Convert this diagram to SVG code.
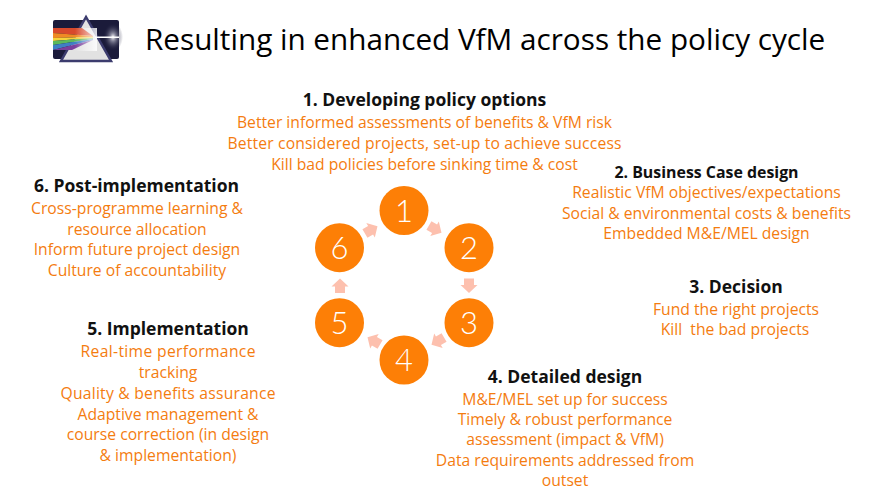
<svg xmlns="http://www.w3.org/2000/svg" width="874" height="492" viewBox="0 0 874 492">
<style>
text{font-family:"Open Sans","Noto Sans","Liberation Sans",sans-serif}
.t{font-size:29.700px;fill:#000}
.h{font-size:17.500px;font-weight:700;fill:#111;text-anchor:middle}
.h2{font-size:15.900px;font-weight:700;fill:#111;text-anchor:middle}
.b{font-size:15.700px;fill:#f47c0f;text-anchor:middle;white-space:pre}
.c{fill:#fd7f06}
.n{font-family:Lato,"Open Sans",sans-serif;font-size:31px;font-weight:300;fill:#fff;text-anchor:middle}
.a{fill:#fdc0ae}
</style>
<defs>
<polygon id="ar" points="-7,-5 -0.500,-5 -0.500,-8.500 7.500,0 -0.500,8.500 -0.500,5 -7,5"/>
<radialGradient id="g"><stop offset="0" stop-color="#fff"/><stop offset="0.300" stop-color="#aab" stop-opacity="0.700"/><stop offset="1" stop-color="#1b1b3a" stop-opacity="0"/></radialGradient>
<linearGradient id="f" x1="0" x2="1" y1="0" y2="0"><stop offset="0.500" stop-color="#fff" stop-opacity="0"/><stop offset="1" stop-color="#fff" stop-opacity="0.850"/></linearGradient>
</defs>
<g id="logo">
<rect x="53" y="20" width="66" height="39" rx="2" fill="#1b1b3a"/>
<ellipse cx="113" cy="37" rx="10" ry="14" fill="url(#g)"/>
<polygon points="86,17 61,61 111,61" fill="#e2e2e2" stroke="#3c3c6e" stroke-width="2.500"/>
<polygon points="53,28 82,28 93,36 53,33" fill="#d8492c"/>
<polygon points="53,33 93,36 93,37 53,38" fill="#f08a24"/>
<polygon points="53,38 93,37 93,38 53,41" fill="#f5d33c"/>
<polygon points="53,41 93,38 93,39 53,45" fill="#5cb85c"/>
<polygon points="53,45 93,39 93,40 53,50" fill="#3f7fc4"/>
<polygon points="53,50 93,40 72,50 53,50" fill="#7a3f9d"/>
<rect x="53" y="28" width="44" height="23" fill="url(#f)"/>
<rect x="95" y="36.500" width="24" height="1.500" fill="#fff"/>
</g>
<text class="t" x="145" y="50">Resulting in enhanced VfM across the policy cycle</text>
<g id="connectors">
<use href="#ar" class="a" transform="translate(435,229) rotate(30)"/>
<use href="#ar" class="a" transform="translate(469,285.500) rotate(90)"/>
<use href="#ar" class="a" transform="translate(438,341) rotate(150)"/>
<use href="#ar" class="a" transform="translate(374,341) rotate(210)"/>
<use href="#ar" class="a" transform="translate(340,286) rotate(270)"/>
<use href="#ar" class="a" transform="translate(371,230) rotate(330)"/>
</g>
<g id="n1"><circle class="c" cx="404" cy="210.500" r="24.500"/><text class="n" x="404" y="221.500">1</text></g>
<g id="n2"><circle class="c" cx="469" cy="247.700" r="24.500"/><text class="n" x="469" y="258.700">2</text></g>
<g id="n3"><circle class="c" cx="469" cy="322.700" r="24.500"/><text class="n" x="469" y="333.700">3</text></g>
<g id="n4"><circle class="c" cx="404" cy="360" r="24.500"/><text class="n" x="404" y="371">4</text></g>
<g id="n5"><circle class="c" cx="339.500" cy="322.700" r="24.500"/><text class="n" x="339.500" y="333.700">5</text></g>
<g id="n6"><circle class="c" cx="339.500" cy="247.700" r="24.500"/><text class="n" x="339.500" y="258.700">6</text></g>
<g id="t1"><text class="h" x="424.500" y="106">1. Developing policy options</text>
<text class="b" x="424.500" y="128">Better informed assessments of benefits &amp; VfM risk</text>
<text class="b" x="424.500" y="149" textLength="394">Better considered projects, set-up to achieve success</text>
<text class="b" x="424.500" y="170">Kill bad policies before sinking time &amp; cost</text></g>
<g id="t2"><text class="h2" x="706.500" y="178">2. Business Case design</text>
<text class="b" x="706.500" y="198">Realistic VfM objectives/expectations</text>
<text class="b" x="706.500" y="219">Social &amp; environmental costs &amp; benefits</text>
<text class="b" x="706.500" y="239">Embedded M&amp;E/MEL design</text></g>
<g id="t3"><text class="h" x="736" y="293">3. Decision</text>
<text class="b" x="736" y="315">Fund the right projects</text>
<text class="b" x="735" y="335">Kill  the bad projects</text></g>
<g id="t4"><text class="h" x="565" y="383">4. Detailed design</text>
<text class="b" x="565" y="405">M&amp;E/MEL set up for success</text>
<text class="b" x="565" y="425">Timely &amp; robust performance</text>
<text class="b" x="565" y="445">assessment (impact &amp; VfM)</text>
<text class="b" x="565" y="466">Data requirements addressed from</text>
<text class="b" x="565" y="486">outset</text></g>
<g id="t5"><text class="h" x="168" y="335">5. Implementation</text>
<text class="b" x="168" y="357" textLength="175">Real-time performance</text>
<text class="b" x="168" y="378">tracking</text>
<text class="b" x="168" y="399" textLength="215">Quality &amp; benefits assurance</text>
<text class="b" x="168" y="420">Adaptive management &amp;</text>
<text class="b" x="168" y="440">course correction (in design</text>
<text class="b" x="168" y="461">&amp; implementation)</text></g>
<g id="t6"><text class="h" x="136.500" y="192">6. Post-implementation</text>
<text class="b" x="137" y="214">Cross-programme learning &amp;</text>
<text class="b" x="137" y="235">resource allocation</text>
<text class="b" x="137" y="255">Inform future project design</text>
<text class="b" x="137" y="276">Culture of accountability</text></g>
</svg>
